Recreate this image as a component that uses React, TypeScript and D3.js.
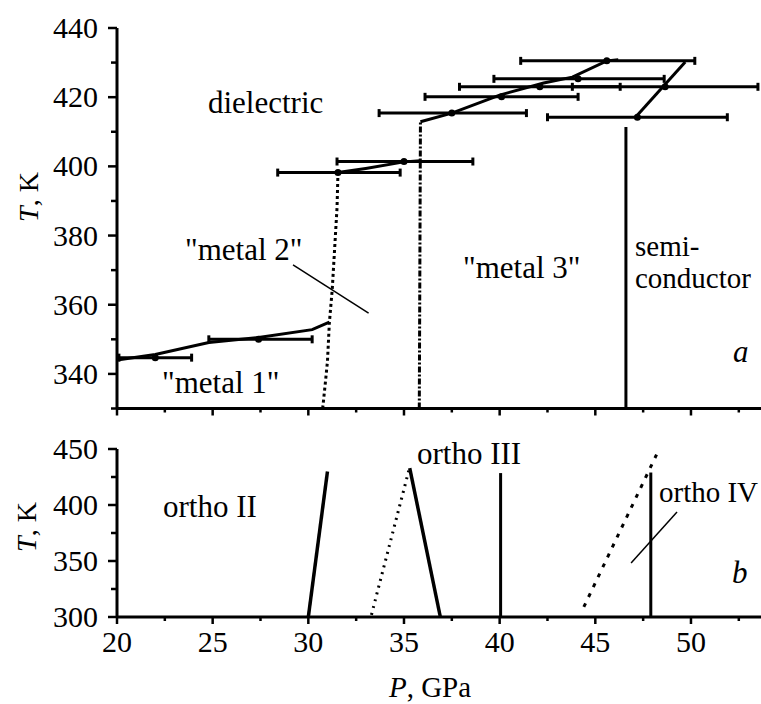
import * as d3 from 'd3'
import React from 'react'

// pressure / temperature data
const xTicks = [20, 25, 30, 35, 40, 45, 50]
const topTicks = [440, 420, 400, 380, 360, 340]
const botTicks = [450, 400, 350, 300]

// panel a
const metal12Line: [number, number][] = [[20.1, 344.1], [22.0, 345.6], [24.8, 349.1], [27.4, 350.5], [30.2, 352.8], [31.1, 355.0]]
const metal12Bound: [number, number][] = [[30.75, 330], [30.9, 338], [31.0, 343.6], [31.1, 354.8], [31.25, 364.4], [31.5, 388], [31.55, 398.2]]
const dielLower: [number, number][] = [[31.55, 398.2], [33.0, 399.4], [35.0, 401.3], [35.86, 401.6]]
const metal3Bound: [number, number][] = [[35.8, 330], [35.86, 412.9]]
const dielUpper: [number, number][] = [[35.86, 412.9], [37.5, 415.4], [40.0, 420.6], [42.3, 424.1], [43.8, 425.8], [45.6, 430.5], [46.2, 430.8]]
const semiDiag: [number, number][] = [[47.1, 414.2], [49.7, 430.2]]
const semiVert: [number, number][] = [[46.6, 330], [46.6, 411.4]]
// error bars: [T, Plow, Phigh, Pcenter]
const errBars: [number, number, number, number][] = [
  [344.7, 20.1, 23.9, 22.0],
  [350.0, 24.8, 30.2, 27.4],
  [398.2, 28.4, 34.8, 31.55],
  [401.4, 31.5, 38.6, 35.0],
  [415.4, 33.7, 41.4, 37.5],
  [420.1, 36.1, 44.1, 40.1],
  [423.0, 37.9, 46.3, 42.1],
  [423.0, 43.8, 53.5, 48.65],
  [425.3, 39.7, 48.6, 44.1],
  [430.5, 41.1, 50.2, 45.6],
  [414.2, 42.5, 51.9, 47.2],
]

// panel b
const o23Left: [number, number][] = [[30.0, 300], [31.0, 430]]
const o3Dotted: [number, number][] = [[33.3, 302], [35.3, 434]]
const o3Right: [number, number][] = [[35.3, 433], [36.9, 300]]
const v40: [number, number][] = [[40.05, 300], [40.05, 428.5]]
const o4Dotted: [number, number][] = [[44.4, 309], [48.2, 445]]
const v48: [number, number][] = [[47.9, 300], [47.9, 429]]

const W = 761, H = 704
const font = "'Liberation Serif', 'DejaVu Serif', serif"

export default function App() {
  const
    x = d3.scaleLinear().domain([20, 53.66]).range([117, 761]),
    yT = d3.scaleLinear().domain([330, 440]).range([408.5, 28]),
    yB = d3.scaleLinear().domain([300, 450]).range([617, 449]),
    lineT = d3.line<[number, number]>().x(d => x(d[0])).y(d => yT(d[1])),
    lineB = d3.line<[number, number]>().x(d => x(d[0])).y(d => yB(d[1])),
    minorX = d3.range(20, 53.6, 2.5)

  const xAxis = (y0: number) => (
    <g>
      <line x1={x(20)} x2={W} y1={y0} y2={y0} stroke='#000' strokeWidth={3} />
      {minorX.map(v => (
        <line key={v} x1={x(v)} x2={x(v)} y1={y0} y2={y0 + (v % 5 === 0 ? 7 : 4)} stroke='#000' strokeWidth={2.5} />
      ))}
    </g>
  )

  const yAxis = (scale: d3.ScaleLinear<number, number>, lo: number, hi: number, step: number, labels: number[]) => (
    <g>
      <line x1={117} x2={117} y1={scale(hi)} y2={scale(lo)} stroke='#000' strokeWidth={3} />
      {d3.range(lo, hi + 0.1, step).map(v => (
        <line key={v} x1={labels.includes(v) ? 108 : 111} x2={117} y1={scale(v)} y2={scale(v)} stroke='#000' strokeWidth={2.5} />
      ))}
      {labels.map(v => (
        <text key={v} x={98} y={scale(v) + 10} textAnchor='end' fontSize={30}>{v}</text>
      ))}
    </g>
  )

  const s = { fill: 'none', stroke: '#000', strokeWidth: 3 }

  return (
    <svg width={W} height={H} style={{ position: 'absolute', left: 0, top: 0, fontFamily: font }}>
      <rect width={W} height={H} fill='#fff' />
      {/* panel a */}
      {yAxis(yT, 330, 440, 10, topTicks)}
      {xAxis(408.5)}
      {errBars.map((b, i) => (
        <g key={i}>
          <line x1={x(b[1])} x2={x(b[2])} y1={yT(b[0])} y2={yT(b[0])} stroke='#000' strokeWidth={3} />
          <line x1={x(b[1])} x2={x(b[1])} y1={yT(b[0]) - 4} y2={yT(b[0]) + 4} stroke='#000' strokeWidth={3} />
          <line x1={x(b[2])} x2={x(b[2])} y1={yT(b[0]) - 4} y2={yT(b[0]) + 4} stroke='#000' strokeWidth={3} />
          <circle cx={x(b[3])} cy={yT(b[0])} r={3.5} fill='#000' />
        </g>
      ))}
      <path d={lineT(metal12Line)!} {...s} />
      <path d={lineT(metal12Bound)!} {...s} strokeDasharray='3,3' />
      <path d={lineT(dielLower)!} {...s} />
      <path d={lineT(metal3Bound)!} {...s} strokeDasharray='6,2,2,2' />
      <path d={lineT(dielUpper)!} {...s} />
      <path d={lineT(semiDiag)!} {...s} />
      <path d={lineT(semiVert)!} {...s} />
      <line x1={x(29.2)} y1={yT(371.5)} x2={x(33.15)} y2={yT(357.6)} stroke='#000' strokeWidth={1.5} />
      <g fontSize={31}>
        <text x={208} y={113}>dielectric</text>
        <text x={185} y={260}>"metal 2"</text>
        <text x={162} y={393}>"metal 1"</text>
        <text x={463} y={278}>"metal 3"</text>
        <text x={733} y={362} fontStyle='italic'>a</text>
      </g>
      <g fontSize={29}>
        <text x={635} y={256}>semi-</text>
        <text x={635} y={288}>conductor</text>
      </g>
      <text transform='translate(38,197) rotate(-90)' textAnchor='middle' fontSize={28}>
        <tspan fontStyle='italic'>T</tspan>, K
      </text>

      {/* panel b */}
      {yAxis(yB, 300, 450, 25, botTicks)}
      {xAxis(617)}
      <path d={lineB(o23Left)!} {...s} strokeWidth={3.5} />
      <path d={lineB(o3Dotted)!} {...s} strokeDasharray='2,5' />
      <path d={lineB(o3Right)!} {...s} strokeWidth={3.5} />
      <path d={lineB(v40)!} {...s} />
      <path d={lineB(o4Dotted)!} {...s} strokeDasharray='4,7' />
      <path d={lineB(v48)!} {...s} />
      <line x1={x(49.27)} y1={yB(393.75)} x2={x(46.87)} y2={yB(348.2)} stroke='#000' strokeWidth={1.5} />
      <g fontSize={31}>
        <text x={163} y={517}>ortho II</text>
        <text x={417} y={464}>ortho III</text>
        <text x={732} y={583} fontStyle='italic'>b</text>
      </g>
      <text x={659} y={502} fontSize={29}>ortho IV</text>
      <text transform='translate(36,527) rotate(-90)' textAnchor='middle' fontSize={28}>
        <tspan fontStyle='italic'>T</tspan>, K
      </text>
      {xTicks.map(v => (
        <text key={v} x={x(v)} y={652} textAnchor='middle' fontSize={30}>{v}</text>
      ))}
      <text x={430} y={697} textAnchor='middle' fontSize={29}>
        <tspan fontStyle='italic'>P</tspan>, GPa
      </text>
    </svg>
  )
}
